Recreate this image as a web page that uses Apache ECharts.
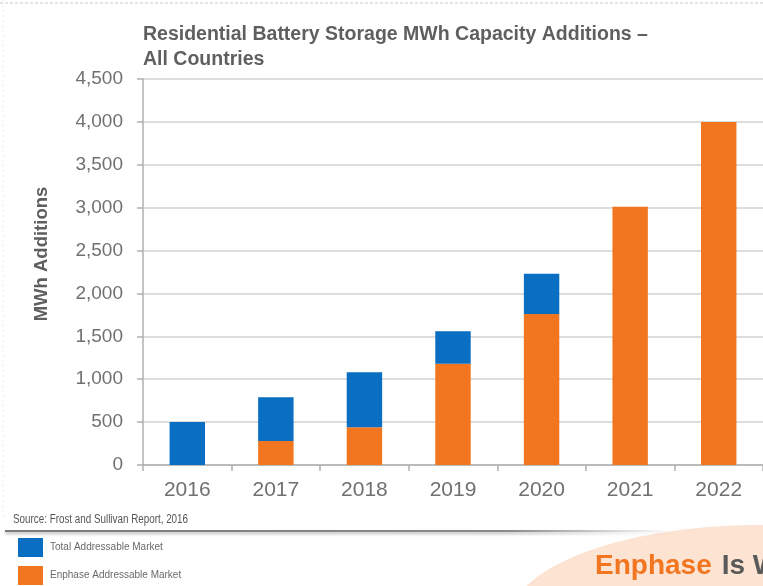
<!DOCTYPE html>
<html>
<head>
<meta charset="utf-8">
<script src="https://cdn.jsdelivr.net/npm/echarts@6/dist/echarts.min.js"></script>
<style>
  html, body { margin: 0; padding: 0; background: #fff; }
  #chart { width: 763px; height: 586px; }
</style>
</head>
<body>
<div id="chart"></div>
<script>
const years = ['2016', '2017', '2018', '2019', '2020', '2021', '2022'];
// orange part (bottom of stack)
const enphase = [0, 280, 440, 1180, 1760, 3010, 4000];
// blue part stacked on top of orange
const totalExtra = [500, 510, 640, 380, 470, 0, 0];
const yTicks = [0, 500, 1000, 1500, 2000, 2500, 3000, 3500, 4000, 4500];

const grey = '#5f5f5f';
const font = 'Liberation Sans, Arial, sans-serif';

const chart = echarts.init(document.getElementById('chart'));

const option = {
  animation: false,
  textStyle: { fontFamily: font },
  title: {
    text: 'Residential Battery Storage MWh Capacity Additions –\nAll Countries',
    left: 143,
    top: 22,
    padding: 0,
    textStyle: { fontSize: 19.5, fontWeight: 'bold', color: grey, lineHeight: 25, fontFamily: font }
  },
  legend: {
    orient: 'vertical',
    left: 18,
    top: 538,
    padding: 0,
    itemWidth: 25,
    itemHeight: 19,
    itemGap: 9,
    icon: 'rect',
    data: ['Total Addressable Market', 'Enphase Addressable Market'],
    textStyle: { fontSize: 10, color: '#6a6a6a', fontFamily: font, padding: [0, 0, 0, 2] }
  },
  grid: { left: 143, right: 0, top: 79, bottom: 121 },
  xAxis: {
    type: 'category',
    data: years,
    axisLine: { lineStyle: { color: '#b0b0b0', width: 1.5 } },
    axisTick: { show: true, length: 6, lineStyle: { color: '#b0b0b0', width: 1.5 } },
    axisLabel: { fontSize: 21, color: '#707070', margin: 15 }
  },
  yAxis: {
    type: 'value',
    min: yTicks[0],
    max: yTicks[yTicks.length - 1],
    interval: 500,
    axisLine: { show: true, lineStyle: { color: '#b0b0b0', width: 1.5 } },
    axisTick: { show: true, length: 6, lineStyle: { color: '#b0b0b0', width: 1.5 } },
    axisLabel: {
      fontSize: 19,
      color: '#707070',
      margin: 20,
      formatter: v => v.toLocaleString('en-US')
    },
    splitLine: { lineStyle: { color: '#d2d2d2', width: 1.5 } }
  },
  series: [
    {
      name: 'Enphase Addressable Market',
      type: 'bar',
      stack: 'market',
      data: enphase,
      barWidth: '40%',
      itemStyle: { color: '#f27520' }
    },
    {
      name: 'Total Addressable Market',
      type: 'bar',
      stack: 'market',
      data: totalExtra,
      barWidth: '40%',
      itemStyle: { color: '#0a6fc2' }
    }
  ],
  graphic: [
    {
      type: 'text',
      x: 42,
      y: 254,
      rotation: Math.PI / 2,
      style: {
        text: 'MWh Additions',
        fontSize: 18.5,
        fontWeight: 'bold',
        fill: grey,
        fontFamily: font,
        align: 'center',
        verticalAlign: 'middle'
      }
    },
    {
      type: 'ellipse',
      shape: { cx: 760, cy: 620, rx: 250, ry: 95 },
      style: { fill: '#fde3d2' },
      z: -1
    },
    {
      type: 'text',
      left: 595,
      top: 552,
      style: {
        text: '{o|Enphase}{s| }{g|Is W}',
        rich: {
          o: { fontSize: 28, fontWeight: 'bold', fill: '#f27520', fontFamily: font },
          s: { fontSize: 28, width: 10 },
          g: { fontSize: 28, fontWeight: 'bold', fill: '#5a5a5a', fontFamily: font }
        }
      }
    },
    {
      type: 'text',
      x: 13,
      y: 514,
      scaleX: 0.82,
      style: { text: 'Source: Frost and Sullivan Report, 2016', fontSize: 12, fill: '#555', fontFamily: font }
    },
    {
      type: 'rect',
      shape: { x: 5, y: 530, width: 670, height: 2 },
      style: {
        fill: new echarts.graphic.LinearGradient(0, 0, 1, 0, [
          { offset: 0, color: '#7a7a7a' },
          { offset: 0.75, color: '#8a8a8a' },
          { offset: 1, color: 'rgba(160,160,160,0)' }
        ]),
        shadowBlur: 3,
        shadowOffsetY: 2,
        shadowColor: 'rgba(0,0,0,0.3)'
      }
    },
    {
      type: 'line',
      shape: { x1: 0, y1: 3, x2: 763, y2: 3 },
      style: { stroke: '#e4e4e4', lineWidth: 2, lineDash: [3, 2] }
    },
    {
      type: 'line',
      shape: { x1: 3, y1: 0, x2: 3, y2: 520 },
      style: { stroke: '#ececec', lineWidth: 1, lineDash: [2, 3] }
    }
  ]
};

chart.setOption(option);
</script>
</body>
</html>
